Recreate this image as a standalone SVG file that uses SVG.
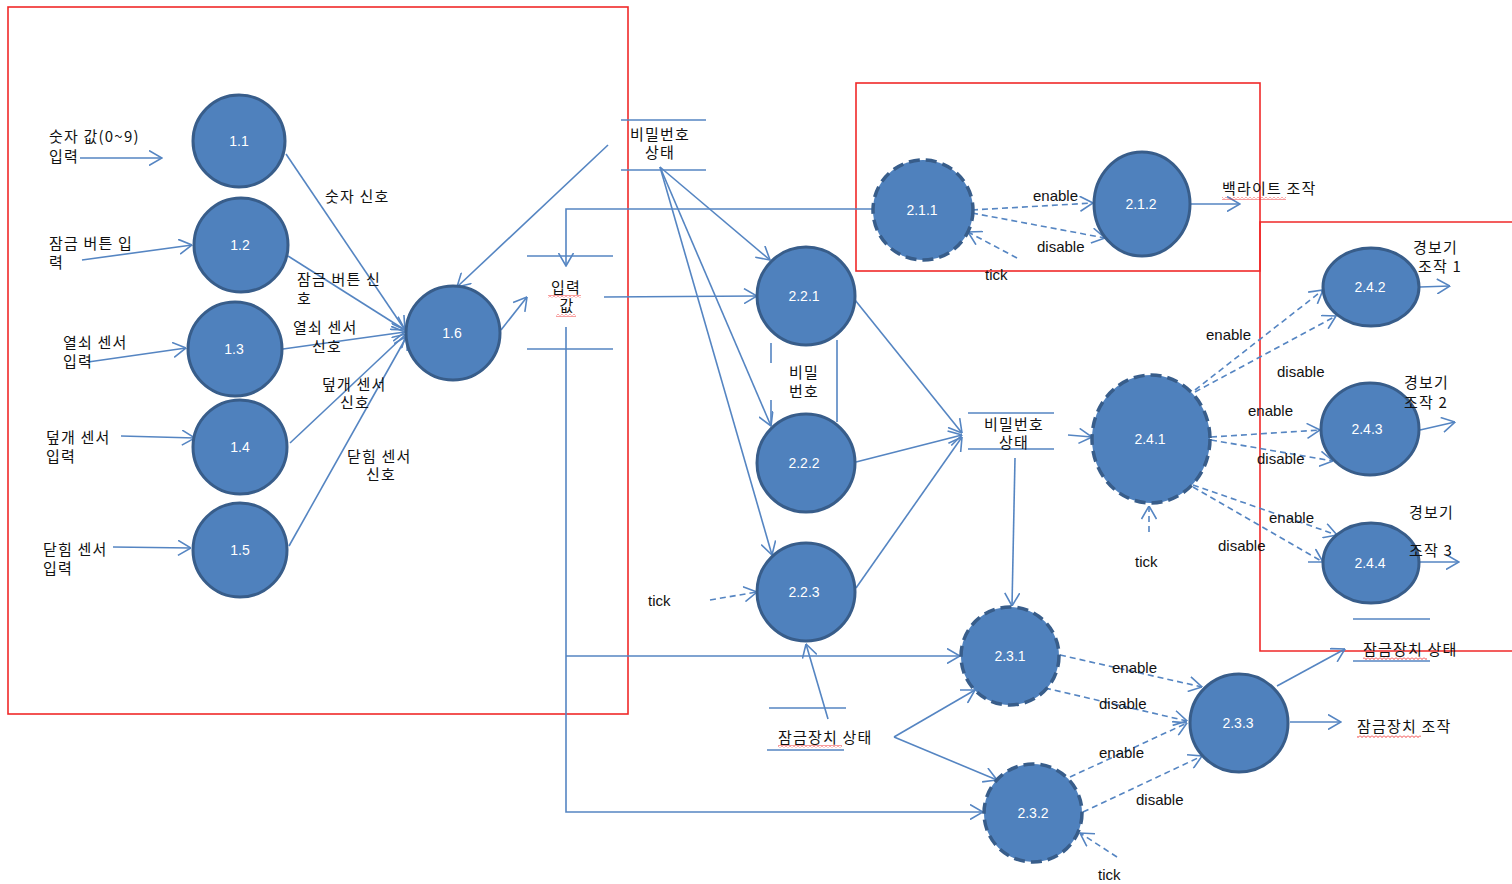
<svg xmlns="http://www.w3.org/2000/svg" width="1512" height="884" viewBox="0 0 1512 884">
<style>
.bg{fill:#ffffff}
.frame{fill:none;stroke:#F02828;stroke-width:1.6}
.node{fill:#4F81BD;stroke:#385D8A;stroke-width:3}
.dnode{fill:#4F81BD;stroke:#385D8A;stroke-width:3.5;stroke-dasharray:11,6}
.nl{font-family:"Liberation Sans",Arial,sans-serif;font-size:14px;fill:#ffffff;text-anchor:middle}
.c{fill:none;stroke:#5585C2;stroke-width:1.6}
.d{fill:none;stroke:#5585C2;stroke-width:1.6;stroke-dasharray:6,4}
.st{fill:none;stroke:#5585C2;stroke-width:1.6}
.k{font-family:"Noto Sans CJK KR","Noto Sans",sans-serif;font-size:15px;letter-spacing:1.2px;fill:#111111}
.e{font-family:"Liberation Sans",Arial,sans-serif;font-size:15px;fill:#111111}
.sq{fill:url(#sqp)}
</style>
<defs>
<marker id="ar" viewBox="0 0 14 16" refX="13.5" refY="8" markerWidth="14" markerHeight="16" markerUnits="userSpaceOnUse" orient="auto">
<path d="M0.5,0.5 L13.5,8 L0.5,15.5" fill="none" stroke="#5585C2" stroke-width="1.6"/>
</marker>
<pattern id="sqp" x="0" y="0" width="4" height="3" patternUnits="userSpaceOnUse">
<path d="M0,0.5 L2,2.5 L4,0.5" fill="none" stroke="#F02828" stroke-width="0.9"/>
</pattern>
</defs>
<rect class="bg" x="0" y="0" width="1512" height="884"/>

<g id="frames">
<rect class="frame" x="8" y="7" width="620" height="707"/>
<rect class="frame" x="856" y="83" width="404" height="188"/>
<path class="frame" d="M1514,222 L1260,222 L1260,651 L1514,651"/>
</g>

<g id="connectors">
<path class="c" d="M80,158 L162,158" marker-end="url(#ar)"/>
<path class="c" d="M82,260 L192,245" marker-end="url(#ar)"/>
<path class="c" d="M88,362 L186,348" marker-end="url(#ar)"/>
<path class="c" d="M121,436 L195,438" marker-end="url(#ar)"/>
<path class="c" d="M113,547 L191,548" marker-end="url(#ar)"/>
<path class="c" d="M286,154 L405,330" marker-end="url(#ar)"/>
<path class="c" d="M288,256 L405,330" marker-end="url(#ar)"/>
<path class="c" d="M283,349 L405,332" marker-end="url(#ar)"/>
<path class="c" d="M290,443 L406,334" marker-end="url(#ar)"/>
<path class="c" d="M289,546 L407,336" marker-end="url(#ar)"/>
<path class="c" d="M501,330 L527,297" marker-end="url(#ar)"/>
<path class="c" d="M608,145 L457,287" marker-end="url(#ar)"/>
<path class="c" d="M874,209 L566,209 L566,266" marker-end="url(#ar)"/>
<path class="c" d="M604,297 L757,296" marker-end="url(#ar)"/>
<path class="c" d="M566,327 L566,812 L983,812" marker-end="url(#ar)"/>
<path class="c" d="M566,656 L960,656" marker-end="url(#ar)"/>
<path class="c" d="M660,167 L770,260" marker-end="url(#ar)"/>
<path class="c" d="M660,167 L771,426" marker-end="url(#ar)"/>
<path class="c" d="M660,167 L772,555" marker-end="url(#ar)"/>
<path class="c" d="M855,300 L962,433" marker-end="url(#ar)"/>
<path class="c" d="M856,462 L962,435" marker-end="url(#ar)"/>
<path class="c" d="M856,588 L962,437" marker-end="url(#ar)"/>
<path class="c" d="M1068,435 L1092,437" marker-end="url(#ar)"/>
<path class="c" d="M1015,458 L1012,606" marker-end="url(#ar)"/>
<path class="d" d="M710,600 L757,592" marker-end="url(#ar)"/>
<path class="c" d="M828,719 L806,644" marker-end="url(#ar)"/>
<path class="c" d="M894,737 L975,690" marker-end="url(#ar)"/>
<path class="c" d="M894,737 L997,780" marker-end="url(#ar)"/>
<path class="d" d="M972,210 L1093,203" marker-end="url(#ar)"/>
<path class="d" d="M972,213 L1105,238" marker-end="url(#ar)"/>
<path class="d" d="M1017,258 L968,232" marker-end="url(#ar)"/>
<path class="c" d="M1191,204 L1240,204" marker-end="url(#ar)"/>
<path class="d" d="M1195,390 L1323,290" marker-end="url(#ar)"/>
<path class="d" d="M1195,392 L1336,316" marker-end="url(#ar)"/>
<path class="d" d="M1211,437 L1320,430" marker-end="url(#ar)"/>
<path class="d" d="M1211,440 L1333,461" marker-end="url(#ar)"/>
<path class="d" d="M1193,485 L1337,535" marker-end="url(#ar)"/>
<path class="d" d="M1193,487 L1323,562" marker-end="url(#ar)"/>
<path class="d" d="M1149,532 L1149,506" marker-end="url(#ar)"/>
<path class="c" d="M1420,287 L1450,286" marker-end="url(#ar)"/>
<path class="c" d="M1420,430 L1455,422" marker-end="url(#ar)"/>
<path class="c" d="M1420,562 L1459,562" marker-end="url(#ar)"/>
<path class="d" d="M1060,655 L1202,687" marker-end="url(#ar)"/>
<path class="d" d="M1045,688 L1187,721" marker-end="url(#ar)"/>
<path class="d" d="M1070,777 L1187,723" marker-end="url(#ar)"/>
<path class="d" d="M1083,812 L1202,756" marker-end="url(#ar)"/>
<path class="d" d="M1117,857 L1080,833" marker-end="url(#ar)"/>
<path class="c" d="M1277,686 L1345,649" marker-end="url(#ar)"/>
<path class="c" d="M1290,722 L1341,722" marker-end="url(#ar)"/>
</g>

<g id="store-pw-top">
<path class="st" d="M621,120 L706,120 M621,170 L706,170"/>
<text class="k" x="660" y="140" text-anchor="middle">비밀번호</text>
<text class="k" x="660" y="158" text-anchor="middle">상태</text>
</g>
<g id="store-input">
<path class="st" d="M527,256 L613,256 M527,349 L613,349"/>
<text class="k" x="566" y="293" text-anchor="middle">입력</text>
<text class="k" x="567" y="311" text-anchor="middle">값</text>
<rect class="sq" x="548" y="295" width="33" height="3"/>
<rect class="sq" x="556" y="314" width="20" height="3"/>
</g>
<g id="store-pw">
<path class="st" d="M771,343 L771,363 M771,400 L771,425 M837,340 L837,422"/>
<text class="k" x="804" y="378" text-anchor="middle">비밀</text>
<text class="k" x="804" y="397" text-anchor="middle">번호</text>
</g>
<g id="store-pw-right">
<path class="st" d="M968,413 L1054,413 M968,449 L1054,449"/>
<text class="k" x="1014" y="430" text-anchor="middle">비밀번호</text>
<text class="k" x="1014" y="448" text-anchor="middle">상태</text>
</g>
<g id="store-lock-bottom">
<path class="st" d="M769,708 L846,708 M767,750 L844,750"/>
<text class="k" x="778" y="743">잠금장치 상태</text>
<rect class="sq" x="778" y="745" width="64" height="3"/>
</g>
<g id="store-lock-right">
<path class="st" d="M1353,619 L1430,619 M1353,661 L1430,661"/>
<text class="k" x="1363" y="655">잠금장치 상태</text>
<rect class="sq" x="1363" y="657" width="64" height="3"/>
</g>

<g id="n1-1"><circle class="node" cx="239" cy="141" r="46"/><text class="nl" x="239" y="146">1.1</text></g>
<g id="n1-2"><circle class="node" cx="241" cy="245" r="47"/><text class="nl" x="240" y="250">1.2</text></g>
<g id="n1-3"><circle class="node" cx="235" cy="349" r="47"/><text class="nl" x="234" y="354">1.3</text></g>
<g id="n1-4"><circle class="node" cx="240" cy="447" r="47"/><text class="nl" x="240" y="452">1.4</text></g>
<g id="n1-5"><circle class="node" cx="240" cy="550" r="47"/><text class="nl" x="240" y="555">1.5</text></g>
<g id="n1-6"><circle class="node" cx="453" cy="333" r="47"/><text class="nl" x="452" y="338">1.6</text></g>
<g id="n2-2-1"><circle class="node" cx="806" cy="296" r="49"/><text class="nl" x="804" y="301">2.2.1</text></g>
<g id="n2-2-2"><circle class="node" cx="806" cy="463" r="49"/><text class="nl" x="804" y="468">2.2.2</text></g>
<g id="n2-2-3"><circle class="node" cx="806" cy="592" r="49"/><text class="nl" x="804" y="597">2.2.3</text></g>
<g id="n2-1-1"><circle class="dnode" cx="923" cy="210" r="50"/><text class="nl" x="922" y="215">2.1.1</text></g>
<g id="n2-1-2"><ellipse class="node" cx="1142" cy="204" rx="48" ry="52"/><text class="nl" x="1141" y="209">2.1.2</text></g>
<g id="n2-4-1"><ellipse class="dnode" cx="1151" cy="439" rx="59" ry="64"/><text class="nl" x="1150" y="444">2.4.1</text></g>
<g id="n2-4-2"><ellipse class="node" cx="1371" cy="287" rx="48" ry="39"/><text class="nl" x="1370" y="292">2.4.2</text></g>
<g id="n2-4-3"><ellipse class="node" cx="1370" cy="429" rx="49" ry="46"/><text class="nl" x="1367" y="434">2.4.3</text></g>
<g id="n2-4-4"><ellipse class="node" cx="1371" cy="563" rx="48" ry="40"/><text class="nl" x="1370" y="568">2.4.4</text></g>
<g id="n2-3-1"><circle class="dnode" cx="1010" cy="656" r="49"/><text class="nl" x="1010" y="661">2.3.1</text></g>
<g id="n2-3-2"><circle class="dnode" cx="1033" cy="813" r="49"/><text class="nl" x="1033" y="818">2.3.2</text></g>
<g id="n2-3-3"><circle class="node" cx="1239" cy="723" r="49"/><text class="nl" x="1238" y="728">2.3.3</text></g>

<g id="labels">
<text class="k" x="49" y="142">숫자 값(0~9)</text>
<text class="k" x="49" y="162">입력</text>
<text class="k" x="49" y="249">잠금 버튼 입</text>
<text class="k" x="49" y="268">력</text>
<text class="k" x="63" y="348">열쇠 센서</text>
<text class="k" x="63" y="367">입력</text>
<text class="k" x="46" y="443">덮개 센서</text>
<text class="k" x="46" y="462">입력</text>
<text class="k" x="43" y="555">닫힘 센서</text>
<text class="k" x="43" y="574">입력</text>
<text class="k" x="325" y="202">숫자 신호</text>
<text class="k" x="297" y="285">잠금 버튼 신</text>
<text class="k" x="297" y="304">호</text>
<text class="k" x="293" y="333">열쇠 센서</text>
<text class="k" x="312" y="352">신호</text>
<text class="k" x="322" y="390">덮개 센서</text>
<text class="k" x="340" y="408">신호</text>
<text class="k" x="347" y="462">닫힘 센서</text>
<text class="k" x="366" y="480">신호</text>
<text class="e" x="648" y="606">tick</text>
<text class="e" x="1033" y="201">enable</text>
<text class="e" x="1037" y="252">disable</text>
<text class="e" x="985" y="280">tick</text>
<text class="k" x="1222" y="194">백라이트 조작</text>
<rect class="sq" x="1222" y="197" width="64" height="3"/>
<text class="e" x="1206" y="340">enable</text>
<text class="e" x="1277" y="377">disable</text>
<text class="e" x="1248" y="416">enable</text>
<text class="e" x="1257" y="464">disable</text>
<text class="e" x="1269" y="523">enable</text>
<text class="e" x="1218" y="551">disable</text>
<text class="e" x="1135" y="567">tick</text>
<text class="k" x="1413" y="253">경보기</text>
<text class="k" x="1418" y="272">조작 1</text>
<text class="k" x="1404" y="388">경보기</text>
<text class="k" x="1404" y="408">조작 2</text>
<text class="k" x="1409" y="518">경보기</text>
<text class="k" x="1409" y="556">조작 3</text>
<text class="e" x="1112" y="673">enable</text>
<text class="e" x="1099" y="709">disable</text>
<text class="e" x="1099" y="758">enable</text>
<text class="e" x="1136" y="805">disable</text>
<text class="e" x="1098" y="880">tick</text>
<text class="k" x="1357" y="732">잠금장치 조작</text>
<rect class="sq" x="1357" y="735" width="64" height="3"/>
</g>
</svg>
